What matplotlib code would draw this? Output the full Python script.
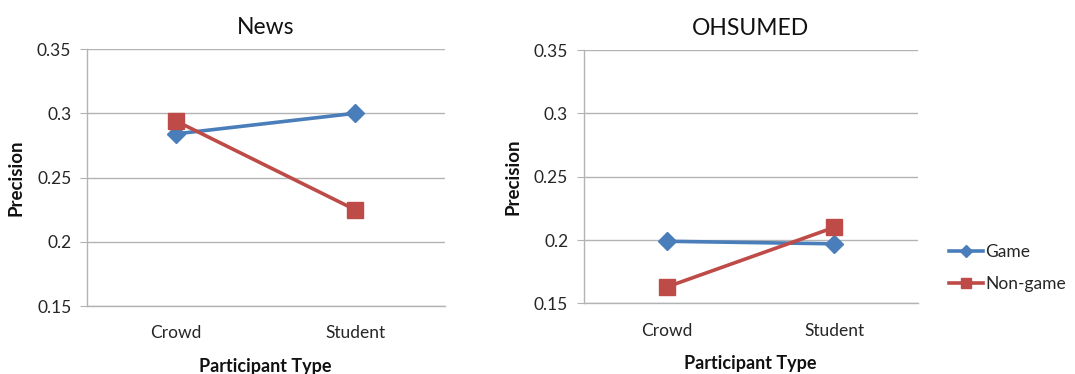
import matplotlib
matplotlib.use("Agg")
import matplotlib.pyplot as plt

# Precision by participant type, for the two collections
categories = ["Crowd", "Student"]
news_game = [0.284, 0.300]
news_nongame = [0.294, 0.225]
ohsumed_game = [0.199, 0.197]
ohsumed_nongame = [0.163, 0.210]
y_ticks = [0.15, 0.2, 0.25, 0.3, 0.35]
y_tick_labels = ["0.15", "0.2", "0.25", "0.3", "0.35"]

plt.rcParams["font.family"] = ["Lato", "DejaVu Sans"]

BLUE = "#4A7EBB"
RED = "#BE4B48"
GRID = "#B3B3B3"
TEXT = "#262626"

fig = plt.figure(figsize=(10.75, 3.74), dpi=100)
ax1 = fig.add_axes([0.0805, 0.1818, 0.333, 0.687])
ax2 = fig.add_axes([0.5428, 0.189, 0.311, 0.677])


def draw(ax, title, game, nongame):
    x = range(len(categories))
    ax.plot(x, game, color=BLUE, lw=2.6, marker="D", ms=9, label="Game",
            zorder=3)
    ax.plot(x, nongame, color=RED, lw=2.6, marker="s", ms=11,
            label="Non-game", zorder=3)
    ax.set_xlim(-0.5, 1.5)
    ax.set_ylim(0.15, 0.35)
    ax.set_yticks(y_ticks)
    ax.set_yticklabels(y_tick_labels)
    ax.set_xticks(list(x))
    ax.set_xticklabels(categories)
    ax.yaxis.grid(True, color=GRID, lw=1.0)
    ax.set_axisbelow(True)
    for s in ("top", "right"):
        ax.spines[s].set_visible(False)
    for s in ("left", "bottom"):
        ax.spines[s].set_color(GRID)
        ax.spines[s].set_linewidth(1.0)
    ax.tick_params(axis="y", length=5, color=GRID, labelsize=12.5,
                   labelcolor=TEXT, pad=6)
    ax.tick_params(axis="x", length=0, labelsize=12.5, labelcolor=TEXT,
                   pad=14)
    ax.set_title(title, fontsize=16.5, color="#111111", pad=11)
    ax.set_ylabel("Precision", fontsize=13.5, fontweight="bold", color="#111111",
                  labelpad=9)
    ax.set_xlabel("Participant Type", fontsize=13, fontweight="bold",
                  color="#111111", labelpad=12)


draw(ax1, "News", news_game, news_nongame)
draw(ax2, "OHSUMED", ohsumed_game, ohsumed_nongame)

handles = [
    plt.Line2D([], [], color=BLUE, lw=2.6, marker="D", ms=6),
    plt.Line2D([], [], color=RED, lw=2.6, marker="s", ms=7),
]
fig.legend(handles, ["Game", "Non-game"], loc="center left",
           bbox_to_anchor=(0.868, 0.283), frameon=False, fontsize=12.5,
           handlelength=2.0, handletextpad=0.1, labelspacing=0.9,
           labelcolor=TEXT)

fig.savefig("out.png", dpi=100, facecolor="white")
